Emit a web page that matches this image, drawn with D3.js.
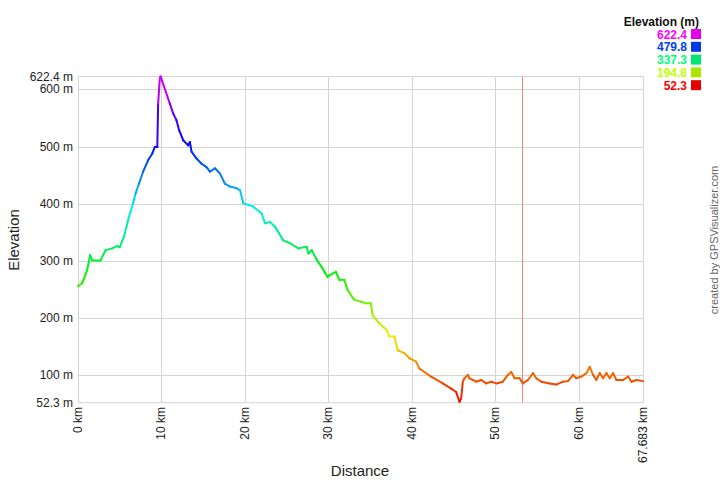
<!DOCTYPE html>
<html><head><meta charset="utf-8">
<script src="https://cdn.jsdelivr.net/npm/d3@7/dist/d3.min.js"></script>
<style>body{margin:0;background:#fff}svg{display:block}text{font-family:"Liberation Sans",Arial,sans-serif}</style>
</head><body><svg id="c" width="720" height="480"></svg>
<script>
const distKm = [0,0.5,1.1,1.45,1.7,2.7,3.3,4.1,4.7,5.0,5.5,6.1,6.6,6.9,7.3,7.8,8.4,8.9,9.2,9.5,9.6,9.8,9.9,
 11.0,11.4,11.8,12.1,12.6,13.2,13.4,13.6,14.2,14.8,15.4,15.8,16.4,17.0,17.6,18.2,19.0,19.4,19.8,20.4,21.0,22.0,
 22.4,23.0,23.6,24.6,25.4,26.4,27.4,27.6,28.0,28.6,29.3,29.9,30.1,30.9,31.3,31.9,32.3,33.1,33.9,34.5,35.1,35.3,
 36.1,37.0,37.3,37.9,38.3,39.1,39.7,40.5,40.9,42.3,43.7,44.7,45.3,45.7,45.9,46.1,46.3,46.7,46.9,47.3,47.7,48.3,
 48.9,49.5,50.1,50.9,51.5,51.9,52.3,52.9,53.3,53.9,54.5,54.9,55.5,56.5,57.3,58.1,58.7,59.3,59.7,60.3,60.9,61.3,
 61.7,62.1,62.5,62.9,63.3,63.7,64.1,64.5,65.3,65.9,66.3,66.9,67.683];
const elevM = [256,261,284,310,301,301,319,322,326,324,342,377,401,418,435,456,476,488,499,499,575,619,622.4,
 575,558,546,529,511,502,508,491,479,470,464,456,462,453,435,430,427,424,401,398,395,383,
 366,368,360,336,331,322,325,313,319,302,287,272,275,281,267,267,249,232,229,226,226,205,
 191,179,168,168,144,139,130,124,112,98,86,77,71,54,60,89,95,101,95,92,89,92,
 86,89,86,89,101,106,95,95,86,92,104,95,89,86,84,89,90,101,95,98,104,115,
 101,92,104,95,104,95,104,92,92,98,89,92,90];
const yTicks = [100,200,300,400,500,600];
const xTicks = [10,20,30,40,50,60];
const legendVals = [622.4,479.8,337.3,194.8,52.3];
const minE = 52.3, maxE = 622.4, maxD = 67.683, markerKm = 53.2;

const svg = d3.select("#c");
const L=78,R=643,T=76.5,B=402.7;
const x = d3.scaleLinear().domain([0,maxD]).range([L,R]);
const y = d3.scaleLinear().domain([minE,maxE]).range([B,T]);
const col = e => d3.hsl(300*(e-minE)/(maxE-minE),1,0.47).toString();
const grid="#d4d4d4";

// grid
svg.append("g").selectAll("line").data(yTicks).join("line")
 .attr("x1",L).attr("x2",R).attr("y1",d=>Math.round(y(d))+0.5).attr("y2",d=>Math.round(y(d))+0.5)
 .attr("stroke",grid);
svg.append("g").selectAll("line").data(xTicks).join("line")
 .attr("y1",T).attr("y2",B).attr("x1",d=>Math.round(x(d))+0.5).attr("x2",d=>Math.round(x(d))+0.5)
 .attr("stroke",grid);
svg.append("rect").attr("x",L+0.5).attr("y",T).attr("width",R-L).attr("height",B-T)
 .attr("fill","none").attr("stroke",grid);

// marker
svg.append("line").attr("x1",Math.round(x(markerKm))+0.5).attr("x2",Math.round(x(markerKm))+0.5)
 .attr("y1",T).attr("y2",B).attr("stroke","#ff8080").attr("stroke-width",1);

// profile
const pts = distKm.map((d,i)=>[d,elevM[i]]);
svg.append("g").selectAll("line").data(pts.slice(1)).join("line")
 .attr("x1",(d,i)=>x(pts[i][0])).attr("y1",(d,i)=>y(pts[i][1]))
 .attr("x2",d=>x(d[0])).attr("y2",d=>y(d[1]))
 .attr("stroke",(d,i)=>col((d[1]+pts[i][1])/2)).attr("stroke-width",2).attr("stroke-linecap","round");

// y labels
const yl = [maxE,...yTicks,minE];
svg.append("g").selectAll("text").data(yl).join("text")
 .attr("x",73).attr("y",d=>y(d)+4).attr("text-anchor","end").attr("font-size",12).attr("fill","#222")
 .text(d=>(d===maxE||d===minE?d.toFixed(1):d)+" m");
// x labels
const xl = [0,...xTicks,maxD];
svg.append("g").selectAll("text").data(xl).join("text")
 .attr("transform",d=>`translate(${x(d)+4},407) rotate(-90)`).attr("text-anchor","end")
 .attr("font-size",12).attr("fill","#222").text(d=>(d===maxD?d.toFixed(3):d)+" km");

svg.append("text").attr("transform","translate(19,240) rotate(-90)").attr("text-anchor","middle")
 .attr("font-size",15).attr("fill","#222").text("Elevation");
svg.append("text").attr("x",360).attr("y",476).attr("text-anchor","middle")
 .attr("font-size",15).attr("fill","#222").text("Distance");
svg.append("text").attr("transform","translate(718,240) rotate(-90)").attr("text-anchor","middle")
 .attr("font-size",11).attr("fill","#666").text("created by GPSVisualizer.com");

// legend
svg.append("text").attr("x",699).attr("y",26).attr("text-anchor","end").attr("font-size",12)
 .attr("font-weight","bold").attr("fill","#111").text("Elevation (m)");
const lg = svg.append("g").selectAll("g").data(legendVals).join("g")
 .attr("transform",(d,i)=>`translate(0,${34+i*12.8})`);
lg.append("text").attr("x",687).attr("y",4.5).attr("text-anchor","end").attr("font-size",12)
 .attr("font-weight","bold").attr("fill",d=>d3.hsl(300*(d-minE)/(maxE-minE),1,0.5).toString()).text(d=>d.toFixed(1));
lg.append("rect").attr("x",691).attr("y",-5).attr("width",10).attr("height",10)
 .attr("fill",d=>d3.hsl(300*(d-minE)/(maxE-minE),1,0.45).toString());
</script></body></html>
